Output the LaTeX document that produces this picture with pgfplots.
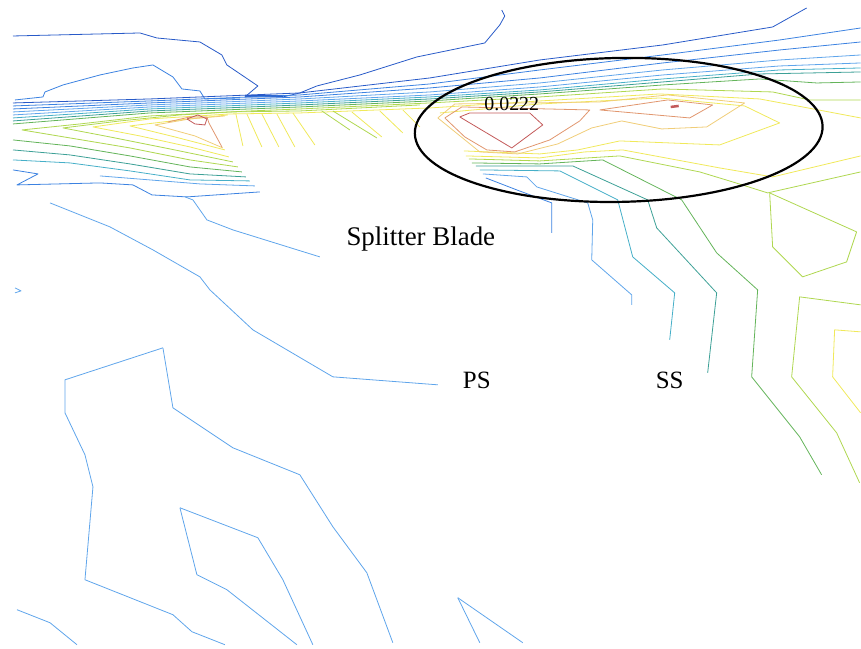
\documentclass[border=0pt]{standalone}
\usepackage{pgfplots}
\pgfplotsset{compat=1.18}
\usepackage{fontspec}
\setmainfont{Liberation Serif}
\definecolor{c1}{RGB}{40,90,200}
\definecolor{c2}{RGB}{60,130,225}
\definecolor{c3}{RGB}{95,165,235}
\definecolor{c4}{RGB}{70,175,200}
\definecolor{c5}{RGB}{60,160,150}
\definecolor{c6}{RGB}{100,180,90}
\definecolor{c7}{RGB}{175,215,80}
\definecolor{c8}{RGB}{240,233,90}
\definecolor{c9}{RGB}{240,205,120}
\definecolor{c10}{RGB}{225,150,110}
\definecolor{c11}{RGB}{195,90,90}
\begin{document}
\begin{tikzpicture}
\begin{axis}[width=861bp, height=649bp, scale only axis,
  xmin=0, xmax=861, ymin=0, ymax=649, y dir=reverse,
  hide axis, clip=false,
  every axis plot/.append style={line width=0.8bp, line join=round, mark=none}]
\path (axis cs:0,0) rectangle (axis cs:861,649);
% top blue lines
\addplot[c1] coordinates {(13,36)(140,33)(157,38)(200,42)(222,55)(227,65)(258,86)(245,97)(283,97)(300,93)(317,86)(360,75)(417,57)(485,43)(500,25)(505,16)(502,10)};
\addplot[c1, line width=2bp] coordinates {(245,96)(283,96)};
\addplot[c2] coordinates {(15,100)(43,97)(45,92)(63,85)(100,75)(133,68)(153,65)(173,77)(182,89)(200,91)(205,99)(240,98)};
% band lines
\addplot[c1] coordinates {(13,103)(150,99)(250,95)(300,93)(430,78)(540,60)(663,45)(773,27)(807,8)};
\addplot[c2] coordinates {(13,106)(150,101)(250,97)(300,95)(430,84)(540,70)(663,55)(780,40)(861,28)};
\addplot[c2] coordinates {(13,109)(150,103)(250,99)(300,97)(430,88)(540,78)(663,63)(780,50)(861,42)};
\addplot[c3] coordinates {(13,112)(150,105)(250,101)(300,99)(430,92)(540,83)(663,70)(780,60)(861,55)};
\addplot[c3] coordinates {(13,115)(150,107)(250,103)(300,101)(430,95)(540,87)(663,75)(780,66)(861,63)};
\addplot[c4] coordinates {(13,118)(150,109)(250,105)(300,103)(430,97)(540,90)(663,79)(780,70)(861,68)};
\addplot[c5] coordinates {(13,121)(150,111)(250,107)(300,105)(430,99)(540,92)(663,82)(760,74)(861,72)};
\addplot[c6] coordinates {(13,124)(150,113)(250,109)(300,107)(430,101)(540,94)(663,85)(760,79)(817,83)(861,82)};
\addplot[c7] coordinates {(238,167)(190,160)(130,148)(70,138)(22,130)(80,124)(150,116)(250,111)(300,109)(430,103)(540,97)(663,89)(773,92)(810,100)(861,100)};
% lower wedge lines
\addplot[c6] coordinates {(13,140)(70,146)(130,156)(190,167)(242,172)};
\addplot[c5] coordinates {(13,150)(70,155)(130,164)(190,174)(246,177)};
\addplot[c4] coordinates {(13,160)(70,163)(130,171)(190,180)(250,181)};
\addplot[c3] coordinates {(100,176)(150,180)(200,184)(255,186)};
\addplot[c2] coordinates {(13,170)(38,174)(17,185)(100,183)(133,185)(152,195)(187,197)(260,192)};
% wedge interior
\addplot[c7] coordinates {(233,162)(170,149)(110,137)(63,128)(120,121)(180,115)(230,112)(300,111)(420,105)};
\addplot[c8] coordinates {(229,157)(190,147)(140,136)(93,127)(150,119)(230,114)(300,113)(430,108)(540,101)(660,94)(760,99)(803,107)(861,118)};
\addplot[c8] coordinates {(225,150)(175,137)(130,126)(180,120)(228,115)};
\addplot[c9] coordinates {(223,148)(195,136)(155,125)(190,119)(225,116)};
\addplot[c10] coordinates {(168,122)(190,117)(207,117)(209,123)(222,147)};
\addplot[c11] coordinates {(187,119)(198,115)(207,119)(205,125)(195,124)(187,119)};
% hanging strokes
\addplot[c8] coordinates {(236,114)(243,146)};
\addplot[c8] coordinates {(247,114)(262,147)};
\addplot[c8] coordinates {(262,114)(279,147)};
\addplot[c8] coordinates {(277,114)(295,147)};
\addplot[c8] coordinates {(293,113)(315,145)};
\addplot[c7] coordinates {(322,111)(350,130)};
\addplot[c7] coordinates {(333,111)(377,138)};
\addplot[c8] coordinates {(352,112)(382,137)};
\addplot[c8] coordinates {(380,111)(403,133)};
\addplot[c8] coordinates {(403,110)(420,127)};
% ellipse region
\addplot[c8] coordinates {(440,113)(540,104)(660,98)(745,106)(780,123)(720,145)(620,141)(578,150)(540,154)(464,151)};
\addplot[c9] coordinates {(438,118)(455,104)(600,102)(668,95)(745,103)(707,127)(662,129)(622,121)(592,128)(558,144)(518,154)(480,152)(438,118)};
\addplot[c10] coordinates {(445,118)(462,107)(590,110)(580,121)(550,140)(515,152)(487,150)(465,137)(445,118)};
\addplot[c11] coordinates {(460,117)(470,113)(530,113)(543,125)(512,148)(460,117)};
\addplot[c10] coordinates {(600,110)(668,100)(713,105)(690,118)(600,110)};
\addplot[c11, line width=2.5bp] coordinates {(671,107)(679,106)};
% lower stack
\addplot[c8] coordinates {(466,156)(540,158)(585,152)(623,150)(720,168)(773,177)(861,156)};
\addplot[c7] coordinates {(469,159)(540,161)(620,156)(700,172)(733,182)(768,193)(861,172)};
\addplot[c6] coordinates {(472,163)(540,164)(603,160)(682,200)(717,253)(758,290)(752,377)(800,437)(822,475)};
\addplot[c5] coordinates {(476,166)(573,166)(648,200)(657,228)(717,293)(708,373)};
\addplot[c4] coordinates {(480,170)(560,171)(618,200)(633,257)(675,293)(670,340)};
\addplot[c3] coordinates {(483,174)(527,177)(537,187)(588,203)(593,220)(592,260)(632,295)(632,305)};
\addplot[c2] coordinates {(486,178)(517,190)(552,203)(552,233)};
% right side
\addplot[c7] coordinates {(770,193)(773,247)(803,277)(847,262)(857,232)(770,193)};
\addplot[c7] coordinates {(861,305)(800,297)(792,377)(837,433)(860,483)};
\addplot[c8] coordinates {(861,332)(835,330)(833,377)(861,413)};
% lower left / middle
\addplot[c3] coordinates {(50,203)(110,227)(153,250)(200,277)(210,290)(253,330)(333,377)(438,385)};
\addplot[c3] coordinates {(185,197)(193,200)(207,220)(233,230)(320,257)};
\addplot[c3] coordinates {(15,288)(21,291)(15,293)};
\addplot[c3] coordinates {(17,610)(50,623)(77,645)};
\addplot[c3] coordinates {(163,348)(65,380)(65,413)(85,455)(93,487)(85,580)(173,615)(192,632)(225,645)};
\addplot[c3] coordinates {(163,348)(173,408)(233,448)(300,475)(333,527)(367,573)(393,643)};
\addplot[c3] coordinates {(180,508)(258,538)(283,580)(313,645)};
\addplot[c3] coordinates {(180,508)(197,575)(227,590)(297,645)};
\addplot[c3] coordinates {(458,598)(480,643)};
\addplot[c3] coordinates {(458,598)(523,643)};
% annotations
\draw[black, line width=2.2bp, rotate around={1:(axis cs:619,130)}] (axis cs:619,130) ellipse [x radius=204bp, y radius=72bp];
\node[font=\fontsize{27}{30}\selectfont] at (axis cs:421,239) {Splitter Blade};
\node[font=\fontsize{25}{28}\selectfont] at (axis cs:477,381) {PS};
\node[font=\fontsize{25}{28}\selectfont] at (axis cs:670,381) {SS};
\node[font=\fontsize{20}{22}\selectfont] at (axis cs:512,104) {0.0222};
\end{axis}
\end{tikzpicture}
\end{document}
